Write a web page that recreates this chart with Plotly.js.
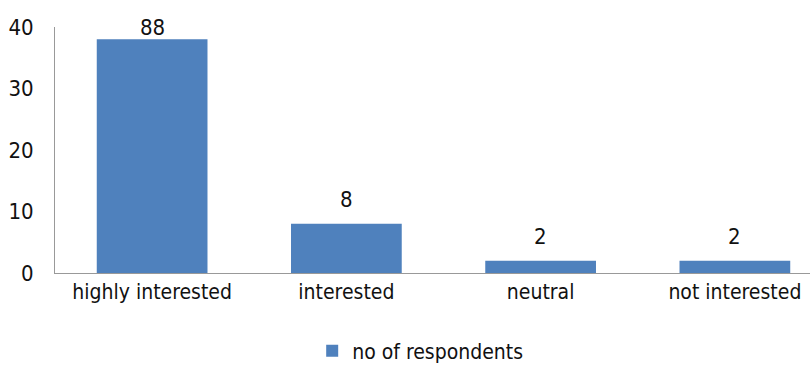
<!DOCTYPE html>
<html><head><meta charset="utf-8">
<script src="https://cdn.plot.ly/plotly-3.0.1.min.js"></script>
<style>html,body{margin:0;padding:0;overflow:hidden;background:#fff}#chart{width:832px;height:372px}</style>
</head><body><div id="chart"></div>
<script>
const categories = ["highly interested", "interested", "neutral", "not interested"];
const respondents = [38, 8, 2, 2];
const labels = ["88", "8", "2", "2"];
const yTicks = [0, 10, 20, 30, 40];
const seriesName = "no of respondents";

const FONT = "'DejaVu Sans Condensed', 'Liberation Sans Narrow', sans-serif";
const TOP = 27, BOTTOM = 96, H = 372;
const plotH = H - TOP - BOTTOM;
const yMax = 40;

const annotations = categories.map((c, i) => {
  const barTop = TOP + (yMax - respondents[i]) / yMax * plotH;
  const shift = Math.min(24, barTop - 28);
  return {x: c, y: respondents[i], xref: 'x', yref: 'y', text: labels[i], showarrow: false,
    yanchor: 'middle', yshift: shift, font: {family: FONT, size: 22, color: '#111'}};
});

Plotly.newPlot('chart', [{
  type: 'bar', x: categories, y: respondents, name: seriesName,
  marker: {color: '#4F81BD'}, showlegend: true
}], {
  width: 832, height: H,
  margin: {l: 55, r: 0, t: TOP, b: BOTTOM, pad: 0},
  bargap: 0.43,
  paper_bgcolor: '#fff', plot_bgcolor: '#fff',
  font: {family: FONT, size: 21, color: '#111'},
  xaxis: {showgrid: false, showline: true, linecolor: '#999', linewidth: 1, ticks: '',
    tickfont: {family: FONT, size: 21, color: '#111'}, automargin: false},
  yaxis: {range: [0, yMax], tickvals: yTicks, showgrid: false, showline: true, linecolor: '#999',
    linewidth: 1, ticks: '', zeroline: false, ticklabelstandoff: 16,
    tickfont: {family: FONT, size: 22, color: '#111'}, automargin: false},
  showlegend: true,
  legend: {orientation: 'h', x: 0.47, xanchor: 'center', y: -0.317, yanchor: 'middle',
    font: {family: FONT, size: 21, color: '#111'}, itemwidth: 30},
  annotations: annotations
}, {displayModeBar: false, staticPlot: true});
</script></body></html>
